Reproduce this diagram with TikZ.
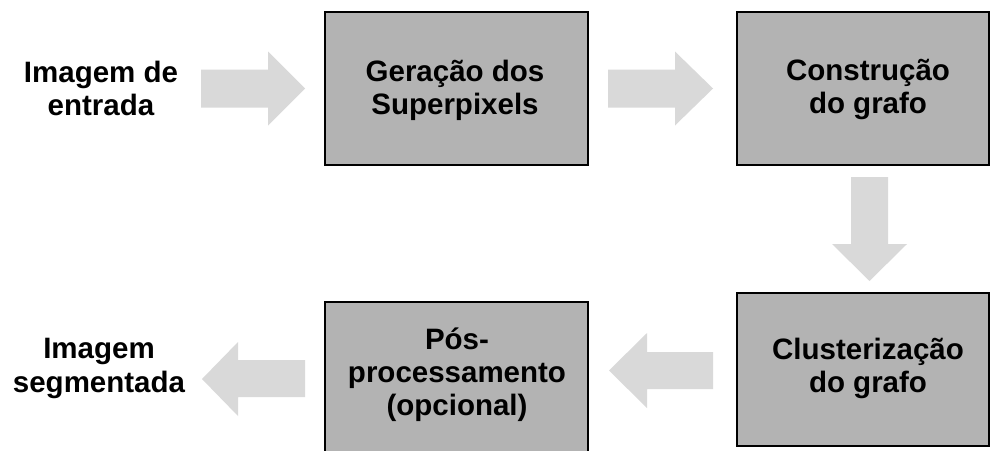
\documentclass[tikz,border=0pt]{standalone}
\usepackage{fontspec}
\setmainfont{Liberation Sans}
\definecolor{boxgray}{HTML}{B3B3B3}
\definecolor{arrowgray}{HTML}{D9D9D9}
\tikzset{
  procbox/.style={draw=black, line width=1.2pt, fill=boxgray, inner sep=0pt,
    minimum height=153pt},
  lbl/.style={font=\fontsize{29.5}{33}\selectfont\bfseries, anchor=base, inner sep=0pt},
  blockarrow/.style={fill=arrowgray, draw=none}
}
\begin{document}
\begin{tikzpicture}[x=1pt,y=-1pt]
\clip (0,0) rectangle (990,450);
\fill[white] (0,0) rectangle (990,450);

% boxes
\node[procbox, minimum width=263pt] (b1) at (456.5,88.5) {};
\node[procbox, minimum width=252pt] (b2) at (863,88.5) {};
\node[procbox, minimum width=252pt] (b3) at (863,369.5) {};
\node[procbox, minimum width=263pt] (b4) at (456.5,378.5) {};

% labels
\node[lbl] (in1) at (101,82) {Imagem de};
\node[lbl] (in2) at (101,115) {entrada};
\node[lbl] (t1a) at (455,81) {Geração dos};
\node[lbl] (t1b) at (455,114) {Superpixels};
\node[lbl] (t2a) at (868,80) {Construção};
\node[lbl] (t2b) at (868,113) {do grafo};
\node[lbl] (t3a) at (868,359) {Clusterização};
\node[lbl] (t3b) at (868,392) {do grafo};
\node[lbl] (t4a) at (457,349) {Pós-};
\node[lbl] (t4b) at (457,382) {processamento};
\node[lbl] (t4c) at (457,415) {(opcional)};
\node[lbl] (out1) at (99,358) {Imagem};
\node[lbl] (out2) at (99,392) {segmentada};

% block arrows
\fill[blockarrow] (201,69.5) -- (268,69.5) -- (268,51.5) -- (305,88.5) -- (268,125.5) -- (268,107.5) -- (201,107.5) -- cycle;
\fill[blockarrow] (608,69.5) -- (675,69.5) -- (675,51.5) -- (713,88.5) -- (675,125.5) -- (675,107.5) -- (608,107.5) -- cycle;
\fill[blockarrow] (851,177) -- (888,177) -- (888,244) -- (907,244) -- (869.5,281) -- (832,244) -- (851,244) -- cycle;
\fill[blockarrow] (713,352) -- (647,352) -- (647,333) -- (609,370.5) -- (647,408) -- (647,389) -- (713,389) -- cycle;
\fill[blockarrow] (305,360) -- (238,360) -- (238,342) -- (202,379) -- (238,416) -- (238,397) -- (305,397) -- cycle;
\end{tikzpicture}
\end{document}
